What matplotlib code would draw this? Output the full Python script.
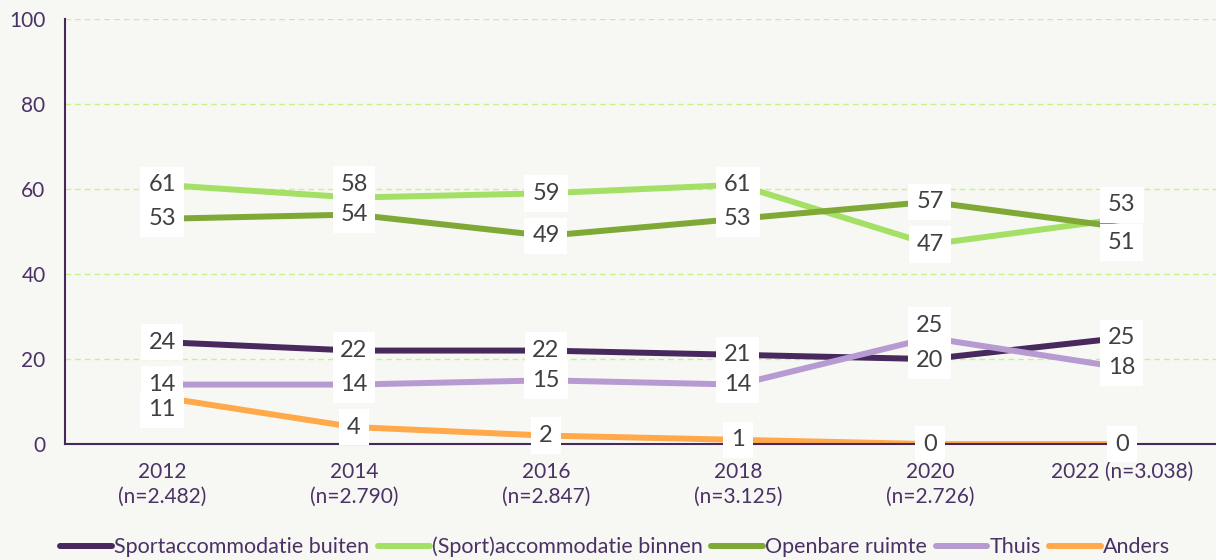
import matplotlib
matplotlib.use("Agg")
import matplotlib.pyplot as plt

plt.rcParams['font.family'] = ['Lato', 'DejaVu Sans']

years = ["2012\n(n=2.482)", "2014\n(n=2.790)", "2016\n(n=2.847)", "2018\n(n=3.125)", "2020\n(n=2.726)", "2022 (n=3.038)"]
series_names = ["Sportaccommodatie buiten", "(Sport)accommodatie binnen", "Openbare ruimte", "Thuis", "Anders"]
sport_buiten = [24, 22, 22, 21, 20, 25]
sport_binnen = [61, 58, 59, 61, 47, 53]
openbaar = [53, 54, 49, 53, 57, 51]
thuis = [14, 14, 15, 14, 25, 18]
anders = [11, 4, 2, 1, 0, 0]
yticks = [0, 20, 40, 60, 80, 100]

colors = ["#47295E", "#A3E065", "#7FA836", "#B89AD2", "#FFA94A"]
values = [sport_buiten, sport_binnen, openbaar, thuis, anders]

# label offsets (points) per series per year to avoid overlap
offsets = [
    [(0, 0), (0, 0), (0, 0), (0, 0), (0, -1), (0, 0)],
    [(0, 0), (0, 9.5), (0, 0), (0, 0), (0, 0), (0, 10)],
    [(0, 0), (0, 0), (0, 0), (0, 0), (0, 0), (0, -11)],
    [(0, 0), (0, 0), (0, 0), (0, 0), (0, 9), (0, 0)],
    [(0, -9), (0, 0), (0, 0), (0, 0), (0, 0), (0, 0)],
]

bg = "#F7F7F3"
fig = plt.figure(figsize=(12.16, 5.6), dpi=100, facecolor=bg)
ax = fig.add_axes([0.0535, 0.207, 0.9465, 0.759])
ax.set_facecolor(bg)

x = list(range(len(years)))
for name, vals, c in zip(series_names, values, colors):
    ax.plot(x, vals, color=c, lw=4.3, label=name, solid_capstyle='round', zorder=3)

for vals, offs in zip(values, offsets):
    for xi, v, off in zip(x, vals, offs):
        ax.annotate(str(v), (xi, v), xytext=off, textcoords='offset points',
                    ha='center', va='center', fontsize=17, color="#404040",
                    bbox=dict(boxstyle='square,pad=0.33', fc='white', ec='none'),
                    zorder=5)

ax.set_xlim(-0.505, 5.49)
ax.set_ylim(0, 100)
ax.set_yticks(yticks)
ax.set_xticks(x)
ax.set_xticklabels(years, linespacing=1.3)
ax.yaxis.grid(True, color="#C6F28A", ls=(0, (4, 3)), lw=1)
ax.set_axisbelow(True)
for s in ['top', 'right']:
    ax.spines[s].set_visible(False)
for s in ['left', 'bottom']:
    ax.spines[s].set_color("#47295E")
    ax.spines[s].set_linewidth(1.5)
ax.spines['bottom'].set_zorder(4)
ax.tick_params(axis='both', length=0, labelsize=15, colors="#4A3266")
ax.tick_params(axis='x', pad=13)
ax.tick_params(axis='y', pad=14)

leg = fig.legend(loc='center', bbox_to_anchor=(0.506, 0.023), ncol=5, frameon=False,
                 fontsize=15.5, handlelength=2.4, handletextpad=0.1, columnspacing=0.4,
                 borderaxespad=0)
for t in leg.get_texts():
    t.set_color("#4A3266")

fig.savefig("out.png", dpi=100, facecolor=bg)
